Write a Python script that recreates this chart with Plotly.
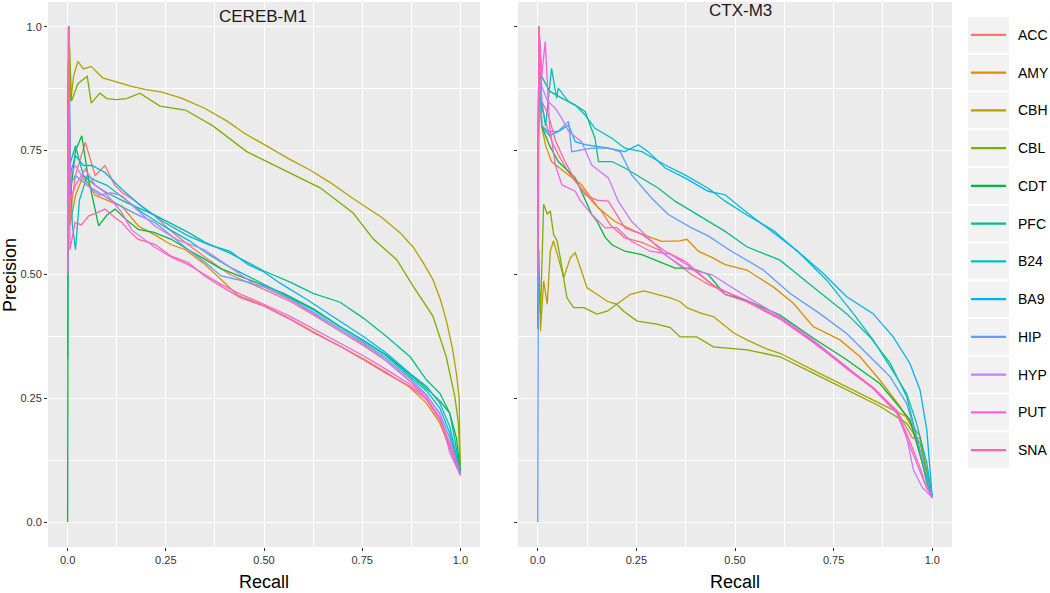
import plotly.graph_objects as go

# ---------------- data ----------------
tissues = ["ACC", "AMY", "CBH", "CBL", "CDT", "PFC", "B24", "BA9", "HIP", "HYP", "PUT", "SNA"]
colors = ["#F8766D", "#DE8C00", "#B79F00", "#7CAE00", "#00BA38", "#00C08B",
          "#00BFC4", "#00B4F0", "#619CFF", "#C77CFF", "#F564E3", "#FF64B0"]
panels = ["CEREB-M1", "CTX-M3"]
tick_vals = [0.0, 0.25, 0.5, 0.75, 1.0]
tick_text = ["0.0", "0.25", "0.50", "0.75", "1.0"]

# ---- CEREB-M1 ----
cereb_ACC_r = [0, 0.003, 0.006, 0.02, 0.045, 0.07, 0.095, 0.12, 0.138, 0.171, 0.197, 0.222, 0.26, 0.307, 0.35, 0.413, 0.5, 0.568, 0.627, 0.694, 0.753, 0.812, 0.872, 0.914, 0.948, 0.973, 1.0]
cereb_ACC_p = [0.5, 1.0, 0.62, 0.7, 0.767, 0.7, 0.72, 0.68, 0.666, 0.649, 0.632, 0.618, 0.59, 0.56, 0.535, 0.5, 0.47, 0.445, 0.418, 0.385, 0.357, 0.325, 0.284, 0.25, 0.21, 0.16, 0.1]
cereb_AMY_r = [0, 0.003, 0.006, 0.02, 0.04, 0.07, 0.1, 0.138, 0.18, 0.222, 0.264, 0.3, 0.35, 0.39, 0.433, 0.5, 0.568, 0.627, 0.694, 0.753, 0.812, 0.872, 0.914, 0.948, 0.973, 1.0]
cereb_AMY_p = [0.5, 1.0, 0.6, 0.66, 0.7, 0.66, 0.65, 0.638, 0.598, 0.58, 0.56, 0.55, 0.52, 0.49, 0.458, 0.437, 0.41, 0.384, 0.356, 0.33, 0.302, 0.272, 0.24, 0.2, 0.15, 0.1]
cereb_CBH_r = [0, 0.003, 0.008, 0.015, 0.026, 0.04, 0.06, 0.089, 0.12, 0.16, 0.2, 0.24, 0.29, 0.35, 0.405, 0.45, 0.51, 0.56, 0.617, 0.67, 0.72, 0.762, 0.8, 0.847, 0.88, 0.906, 0.93, 0.949, 0.965, 0.98, 0.99, 0.997, 1.0]
cereb_CBH_p = [0.6, 1.0, 0.85, 0.9, 0.93, 0.915, 0.92, 0.897, 0.89, 0.88, 0.873, 0.868, 0.856, 0.835, 0.81, 0.785, 0.758, 0.735, 0.711, 0.685, 0.657, 0.634, 0.615, 0.584, 0.555, 0.523, 0.49, 0.45, 0.405, 0.35, 0.3, 0.25, 0.1]
cereb_CBL_r = [0, 0.003, 0.01, 0.026, 0.05, 0.06, 0.082, 0.1, 0.125, 0.15, 0.184, 0.235, 0.3, 0.37, 0.456, 0.55, 0.643, 0.727, 0.779, 0.838, 0.88, 0.93, 0.964, 0.986, 0.995, 1.0]
cereb_CBL_p = [0.6, 1.0, 0.85, 0.885, 0.9, 0.846, 0.866, 0.855, 0.853, 0.855, 0.866, 0.84, 0.832, 0.8, 0.748, 0.712, 0.675, 0.624, 0.571, 0.53, 0.476, 0.416, 0.334, 0.253, 0.2, 0.1]
cereb_CDT_r = [0, 0.002, 0.005, 0.02, 0.036, 0.053, 0.079, 0.1, 0.121, 0.15, 0.18, 0.22, 0.264, 0.307, 0.39, 0.476, 0.55, 0.627, 0.694, 0.753, 0.812, 0.872, 0.914, 0.948, 0.973, 0.99, 1.0]
cereb_CDT_p = [0.0, 1.0, 0.65, 0.75, 0.78, 0.693, 0.598, 0.62, 0.632, 0.61, 0.591, 0.585, 0.571, 0.55, 0.512, 0.485, 0.462, 0.43, 0.395, 0.367, 0.337, 0.298, 0.27, 0.245, 0.22, 0.17, 0.1]
cereb_PFC_r = [0, 0.002, 0.005, 0.02, 0.04, 0.07, 0.1, 0.15, 0.222, 0.307, 0.35, 0.413, 0.5, 0.568, 0.625, 0.694, 0.753, 0.812, 0.872, 0.914, 0.948, 0.973, 0.986, 1.0]
cereb_PFC_p = [0.33, 1.0, 0.72, 0.76, 0.7, 0.68, 0.665, 0.645, 0.62, 0.585, 0.565, 0.543, 0.507, 0.484, 0.462, 0.444, 0.412, 0.375, 0.334, 0.287, 0.26, 0.22, 0.166, 0.098]
cereb_B24_r = [0, 0.003, 0.006, 0.012, 0.02, 0.03, 0.05, 0.07, 0.1, 0.14, 0.19, 0.25, 0.31, 0.36, 0.413, 0.5, 0.568, 0.627, 0.694, 0.753, 0.812, 0.872, 0.914, 0.948, 0.973, 1.0]
cereb_B24_p = [0.5, 1.0, 0.75, 0.6, 0.55, 0.65, 0.7, 0.69, 0.68, 0.655, 0.625, 0.595, 0.568, 0.54, 0.515, 0.48, 0.452, 0.428, 0.394, 0.367, 0.335, 0.295, 0.265, 0.23, 0.18, 0.1]
cereb_BA9_r = [0, 0.003, 0.006, 0.02, 0.04, 0.062, 0.095, 0.138, 0.188, 0.247, 0.307, 0.36, 0.413, 0.46, 0.5, 0.54, 0.61, 0.694, 0.753, 0.812, 0.872, 0.914, 0.948, 0.973, 1.0]
cereb_BA9_p = [0.5, 1.0, 0.7, 0.74, 0.72, 0.72, 0.706, 0.672, 0.638, 0.605, 0.578, 0.56, 0.547, 0.52, 0.505, 0.483, 0.449, 0.405, 0.375, 0.341, 0.3, 0.274, 0.24, 0.193, 0.1]
cereb_HIP_r = [0, 0.003, 0.006, 0.02, 0.05, 0.09, 0.13, 0.18, 0.222, 0.264, 0.307, 0.349, 0.391, 0.441, 0.5, 0.568, 0.627, 0.694, 0.753, 0.812, 0.872, 0.914, 0.948, 0.973, 1.0]
cereb_HIP_p = [0.5, 1.0, 0.68, 0.7, 0.68, 0.66, 0.64, 0.62, 0.605, 0.578, 0.55, 0.525, 0.497, 0.488, 0.475, 0.45, 0.423, 0.39, 0.363, 0.33, 0.29, 0.257, 0.218, 0.17, 0.1]
cereb_HYP_r = [0, 0.003, 0.006, 0.02, 0.05, 0.08, 0.11, 0.138, 0.18, 0.222, 0.28, 0.349, 0.413, 0.476, 0.5, 0.568, 0.627, 0.694, 0.753, 0.812, 0.872, 0.914, 0.948, 0.96, 0.973, 1.0]
cereb_HYP_p = [0.5, 1.0, 0.7, 0.72, 0.68, 0.66, 0.665, 0.659, 0.628, 0.598, 0.57, 0.55, 0.515, 0.48, 0.475, 0.448, 0.42, 0.386, 0.36, 0.326, 0.285, 0.255, 0.22, 0.18, 0.14, 0.095]
cereb_PUT_r = [0, 0.003, 0.006, 0.02, 0.045, 0.07, 0.095, 0.138, 0.163, 0.197, 0.222, 0.264, 0.307, 0.349, 0.391, 0.441, 0.5, 0.568, 0.627, 0.694, 0.753, 0.812, 0.872, 0.914, 0.948, 0.973, 1.0]
cereb_PUT_p = [0.5, 1.0, 0.65, 0.68, 0.713, 0.68, 0.666, 0.625, 0.59, 0.57, 0.555, 0.535, 0.52, 0.5, 0.48, 0.46, 0.44, 0.415, 0.39, 0.362, 0.336, 0.308, 0.278, 0.25, 0.21, 0.155, 0.095]
cereb_SNA_r = [0, 0.003, 0.006, 0.019, 0.035, 0.053, 0.075, 0.095, 0.12, 0.138, 0.16, 0.18, 0.222, 0.264, 0.307, 0.349, 0.391, 0.441, 0.5, 0.568, 0.627, 0.694, 0.753, 0.812, 0.872, 0.914, 0.948, 0.965, 1.0]
cereb_SNA_p = [0.5, 1.0, 0.55, 0.605, 0.6, 0.618, 0.625, 0.632, 0.615, 0.605, 0.585, 0.571, 0.561, 0.537, 0.524, 0.497, 0.476, 0.453, 0.436, 0.409, 0.382, 0.355, 0.328, 0.3, 0.274, 0.247, 0.206, 0.165, 0.095]

# ---- CTX-M3 ----
ctx_ACC_r = [0, 0.003, 0.008, 0.019, 0.035, 0.052, 0.075, 0.095, 0.115, 0.137, 0.16, 0.184, 0.221, 0.264, 0.306, 0.348, 0.39, 0.432, 0.475, 0.53, 0.614, 0.698, 0.783, 0.85, 0.91, 0.95, 0.969, 0.98, 1.0]
ctx_ACC_p = [0.5, 1.0, 0.85, 0.809, 0.77, 0.742, 0.71, 0.688, 0.67, 0.648, 0.63, 0.6, 0.574, 0.565, 0.55, 0.525, 0.5, 0.48, 0.466, 0.445, 0.412, 0.366, 0.312, 0.272, 0.225, 0.17, 0.17, 0.12, 0.05]
ctx_AMY_r = [0, 0.003, 0.01, 0.02, 0.035, 0.055, 0.078, 0.111, 0.154, 0.196, 0.247, 0.289, 0.315, 0.36, 0.378, 0.407, 0.44, 0.475, 0.53, 0.597, 0.648, 0.698, 0.766, 0.817, 0.867, 0.918, 0.952, 0.975, 1.0]
ctx_AMY_p = [0.5, 1.0, 0.8, 0.76, 0.728, 0.715, 0.701, 0.681, 0.634, 0.607, 0.587, 0.574, 0.567, 0.568, 0.571, 0.547, 0.535, 0.52, 0.509, 0.475, 0.442, 0.395, 0.368, 0.334, 0.287, 0.234, 0.187, 0.12, 0.05]
ctx_CBH_r = [0, 0.003, 0.007, 0.015, 0.024, 0.032, 0.04, 0.049, 0.066, 0.083, 0.095, 0.108, 0.125, 0.15, 0.176, 0.2, 0.235, 0.269, 0.302, 0.336, 0.361, 0.378, 0.413, 0.445, 0.497, 0.53, 0.58, 0.614, 0.698, 0.783, 0.867, 0.935, 0.969, 0.986, 1.0]
ctx_CBH_p = [0.39, 0.55, 0.386, 0.487, 0.44, 0.547, 0.568, 0.541, 0.494, 0.534, 0.544, 0.514, 0.473, 0.46, 0.446, 0.44, 0.46, 0.467, 0.46, 0.453, 0.445, 0.433, 0.422, 0.415, 0.382, 0.368, 0.35, 0.341, 0.307, 0.274, 0.24, 0.213, 0.173, 0.106, 0.05]
ctx_CBL_r = [0, 0.003, 0.007, 0.015, 0.024, 0.032, 0.04, 0.049, 0.057, 0.066, 0.074, 0.091, 0.117, 0.15, 0.176, 0.2, 0.218, 0.252, 0.302, 0.336, 0.361, 0.403, 0.445, 0.53, 0.614, 0.698, 0.783, 0.867, 0.935, 0.969, 0.986, 1.0]
ctx_CBL_p = [0.39, 0.5, 0.42, 0.642, 0.622, 0.628, 0.581, 0.568, 0.534, 0.494, 0.453, 0.433, 0.433, 0.42, 0.426, 0.44, 0.426, 0.406, 0.4, 0.393, 0.374, 0.374, 0.354, 0.348, 0.334, 0.301, 0.267, 0.234, 0.2, 0.16, 0.1, 0.05]
ctx_CDT_r = [0, 0.003, 0.01, 0.03, 0.052, 0.075, 0.095, 0.115, 0.137, 0.15, 0.171, 0.188, 0.221, 0.264, 0.306, 0.348, 0.39, 0.432, 0.475, 0.53, 0.614, 0.698, 0.783, 0.867, 0.943, 0.97, 1.0]
ctx_CDT_p = [0.5, 1.0, 0.8, 0.76, 0.728, 0.71, 0.695, 0.66, 0.621, 0.608, 0.575, 0.56, 0.547, 0.54, 0.527, 0.513, 0.513, 0.5, 0.46, 0.448, 0.418, 0.372, 0.328, 0.28, 0.207, 0.13, 0.05]
ctx_PFC_r = [0, 0.003, 0.01, 0.03, 0.061, 0.095, 0.12, 0.145, 0.154, 0.188, 0.221, 0.264, 0.306, 0.348, 0.39, 0.432, 0.475, 0.53, 0.614, 0.698, 0.783, 0.842, 0.893, 0.935, 0.96, 0.986, 1.0]
ctx_PFC_p = [0.5, 1.0, 0.9, 0.87, 0.856, 0.842, 0.829, 0.775, 0.728, 0.728, 0.715, 0.695, 0.674, 0.648, 0.628, 0.607, 0.587, 0.556, 0.529, 0.475, 0.421, 0.374, 0.321, 0.254, 0.173, 0.079, 0.05]
ctx_B24_r = [0, 0.003, 0.01, 0.02, 0.035, 0.048, 0.052, 0.078, 0.095, 0.12, 0.145, 0.188, 0.221, 0.264, 0.323, 0.373, 0.432, 0.475, 0.53, 0.597, 0.665, 0.732, 0.8, 0.85, 0.893, 0.935, 0.96, 0.986, 1.0]
ctx_B24_p = [0.5, 1.0, 0.85, 0.8, 0.916, 0.856, 0.876, 0.849, 0.842, 0.822, 0.795, 0.775, 0.755, 0.748, 0.721, 0.701, 0.674, 0.648, 0.62, 0.589, 0.542, 0.489, 0.421, 0.368, 0.314, 0.26, 0.2, 0.12, 0.05]
ctx_BA9_r = [0, 0.003, 0.01, 0.03, 0.055, 0.078, 0.095, 0.12, 0.179, 0.221, 0.255, 0.28, 0.323, 0.373, 0.432, 0.475, 0.53, 0.589, 0.656, 0.724, 0.783, 0.85, 0.901, 0.943, 0.969, 0.986, 0.998, 1.0]
ctx_BA9_p = [0.4, 1.0, 0.8, 0.78, 0.79, 0.802, 0.768, 0.762, 0.755, 0.748, 0.762, 0.748, 0.715, 0.695, 0.668, 0.661, 0.625, 0.589, 0.549, 0.502, 0.455, 0.421, 0.374, 0.321, 0.267, 0.187, 0.07, 0.05]
ctx_HIP_r = [0, 0.001, 0.003, 0.01, 0.027, 0.052, 0.078, 0.086, 0.137, 0.179, 0.209, 0.238, 0.289, 0.331, 0.39, 0.432, 0.487, 0.572, 0.639, 0.715, 0.783, 0.842, 0.893, 0.935, 0.96, 0.994, 1.0]
ctx_HIP_p = [0.0, 0.38, 1.0, 0.8, 0.789, 0.789, 0.809, 0.748, 0.755, 0.755, 0.748, 0.701, 0.654, 0.621, 0.594, 0.578, 0.549, 0.509, 0.462, 0.421, 0.381, 0.334, 0.294, 0.24, 0.173, 0.066, 0.05]
ctx_HYP_r = [0, 0.003, 0.01, 0.025, 0.044, 0.061, 0.078, 0.111, 0.137, 0.179, 0.204, 0.238, 0.272, 0.323, 0.373, 0.441, 0.5, 0.53, 0.614, 0.698, 0.783, 0.85, 0.91, 0.935, 0.952, 0.975, 1.0]
ctx_HYP_p = [0.5, 1.0, 0.88, 0.85, 0.836, 0.815, 0.789, 0.768, 0.721, 0.695, 0.648, 0.607, 0.581, 0.54, 0.513, 0.5, 0.47, 0.455, 0.415, 0.368, 0.314, 0.27, 0.22, 0.173, 0.106, 0.07, 0.05]
ctx_PUT_r = [0, 0.003, 0.01, 0.019, 0.03, 0.045, 0.061, 0.095, 0.108, 0.137, 0.171, 0.2, 0.235, 0.285, 0.336, 0.378, 0.441, 0.475, 0.53, 0.614, 0.698, 0.783, 0.85, 0.91, 0.94, 0.96, 0.98, 1.0]
ctx_PUT_p = [0.5, 1.0, 0.9, 0.97, 0.8, 0.72, 0.681, 0.668, 0.649, 0.621, 0.594, 0.595, 0.568, 0.547, 0.541, 0.52, 0.48, 0.466, 0.448, 0.412, 0.365, 0.31, 0.27, 0.222, 0.16, 0.12, 0.08, 0.05]
ctx_SNA_r = [0, 0.003, 0.01, 0.027, 0.045, 0.069, 0.095, 0.12, 0.15, 0.179, 0.221, 0.264, 0.323, 0.373, 0.432, 0.475, 0.53, 0.614, 0.698, 0.783, 0.85, 0.91, 0.945, 0.969, 0.985, 1.0]
ctx_SNA_p = [0.5, 1.0, 0.85, 0.822, 0.77, 0.728, 0.69, 0.661, 0.65, 0.648, 0.594, 0.581, 0.547, 0.527, 0.487, 0.46, 0.445, 0.41, 0.363, 0.312, 0.272, 0.225, 0.16, 0.11, 0.07, 0.05]

curves = {
    "CEREB-M1": {
        "ACC": (cereb_ACC_r, cereb_ACC_p), "AMY": (cereb_AMY_r, cereb_AMY_p),
        "CBH": (cereb_CBH_r, cereb_CBH_p), "CBL": (cereb_CBL_r, cereb_CBL_p),
        "CDT": (cereb_CDT_r, cereb_CDT_p), "PFC": (cereb_PFC_r, cereb_PFC_p),
        "B24": (cereb_B24_r, cereb_B24_p), "BA9": (cereb_BA9_r, cereb_BA9_p),
        "HIP": (cereb_HIP_r, cereb_HIP_p), "HYP": (cereb_HYP_r, cereb_HYP_p),
        "PUT": (cereb_PUT_r, cereb_PUT_p), "SNA": (cereb_SNA_r, cereb_SNA_p),
    },
    "CTX-M3": {
        "ACC": (ctx_ACC_r, ctx_ACC_p), "AMY": (ctx_AMY_r, ctx_AMY_p),
        "CBH": (ctx_CBH_r, ctx_CBH_p), "CBL": (ctx_CBL_r, ctx_CBL_p),
        "CDT": (ctx_CDT_r, ctx_CDT_p), "PFC": (ctx_PFC_r, ctx_PFC_p),
        "B24": (ctx_B24_r, ctx_B24_p), "BA9": (ctx_BA9_r, ctx_BA9_p),
        "HIP": (ctx_HIP_r, ctx_HIP_p), "HYP": (ctx_HYP_r, ctx_HYP_p),
        "PUT": (ctx_PUT_r, ctx_PUT_p), "SNA": (ctx_SNA_r, ctx_SNA_p),
    },
}

# ---------------- figure ----------------
W, H = 1050, 593
ML, MR, MT, MB = 48, 98, 2, 46
PW, PH = W - ML - MR, H - MT - MB
FONT = "Liberation Sans, Arial, Helvetica, sans-serif"

def px_x(x):
    return (x - ML) / PW

def px_y(y):
    return (H - MB - y) / PH

fig = go.Figure()
axes = [("x", "y"), ("x2", "y2")]
for (xa, ya), panel in zip(axes, panels):
    for t, c in zip(tissues, colors):
        r, p = curves[panel][t]
        fig.add_trace(go.Scatter(x=r, y=p, mode="lines", name=t, xaxis=xa, yaxis=ya,
                                 line=dict(color=c, width=1.3), showlegend=False,
                                 hoverinfo="skip"))

axis_common = dict(range=[-0.05, 1.05], tickvals=tick_vals, ticktext=tick_text,
                   showgrid=True, gridcolor="white", gridwidth=1.1, zeroline=False,
                   ticks="outside", ticklen=3, tickwidth=1, tickcolor="#333333",
                   tickfont=dict(family=FONT, size=11, color="#333333"),
                   showline=False,
                   minor=dict(tickvals=[0.125, 0.375, 0.625, 0.875], showgrid=True,
                              gridcolor="white", gridwidth=0.5, ticks=""))

d1 = [0, px_x(480)]
d2 = [px_x(518), 1]
fig.update_layout(
    width=W, height=H,
    margin=dict(l=ML, r=MR, t=MT, b=MB, pad=0),
    paper_bgcolor="white", plot_bgcolor="#EBEBEB",
    font=dict(family=FONT),
    xaxis=dict(domain=d1, anchor="y", **axis_common),
    yaxis=dict(domain=[0, 1], anchor="x", **axis_common),
    xaxis2=dict(domain=d2, anchor="y2", **axis_common),
    yaxis2=dict(domain=[0, 1], anchor="x2", showticklabels=False, **axis_common),
    showlegend=False,
)

annotations = []
# facet titles
annotations.append(dict(text="CEREB-M1", x=px_x(263), y=px_y(17), xref="paper", yref="paper",
                        showarrow=False, font=dict(family=FONT, size=17, color="#1A1A1A"),
                        xanchor="center", yanchor="middle"))
annotations.append(dict(text="CTX-M3", x=px_x(740), y=px_y(11), xref="paper", yref="paper",
                        showarrow=False, font=dict(family=FONT, size=17, color="#1A1A1A"),
                        xanchor="center", yanchor="middle"))
# axis titles
for cx in (264, 735):
    annotations.append(dict(text="Recall", x=px_x(cx), y=px_y(582), xref="paper", yref="paper",
                            showarrow=False, font=dict(family=FONT, size=18, color="#000000"),
                            xanchor="center", yanchor="middle"))
annotations.append(dict(text="Precision", x=px_x(10), y=px_y(275), xref="paper", yref="paper",
                        showarrow=False, textangle=-90,
                        font=dict(family=FONT, size=18, color="#000000"),
                        xanchor="center", yanchor="middle"))

# manual ggplot-style legend
shapes = []
top = 17.0
pitch = 37.75
for i, (t, c) in enumerate(zip(tissues, colors)):
    y0 = top + i * pitch
    y1 = y0 + pitch - 2
    yc = (y0 + y1) / 2
    shapes.append(dict(type="rect", xref="paper", yref="paper",
                       x0=px_x(968), x1=px_x(1009), y0=px_y(y1), y1=px_y(y0),
                       fillcolor="#F2F2F2", line=dict(width=0), layer="below"))
    shapes.append(dict(type="line", xref="paper", yref="paper",
                       x0=px_x(971), x1=px_x(1006), y0=px_y(yc), y1=px_y(yc),
                       line=dict(color=c, width=2.2)))
    annotations.append(dict(text=t, x=px_x(1016), y=px_y(yc), xref="paper", yref="paper",
                            showarrow=False, xanchor="left", yanchor="middle",
                            font=dict(family=FONT, size=14, color="#000000")))

fig.update_layout(shapes=shapes, annotations=annotations)
fig.write_html("out.html", config={"displayModeBar": False},
               post_script="document.body.style.margin='0px';document.body.style.overflow='hidden';")
